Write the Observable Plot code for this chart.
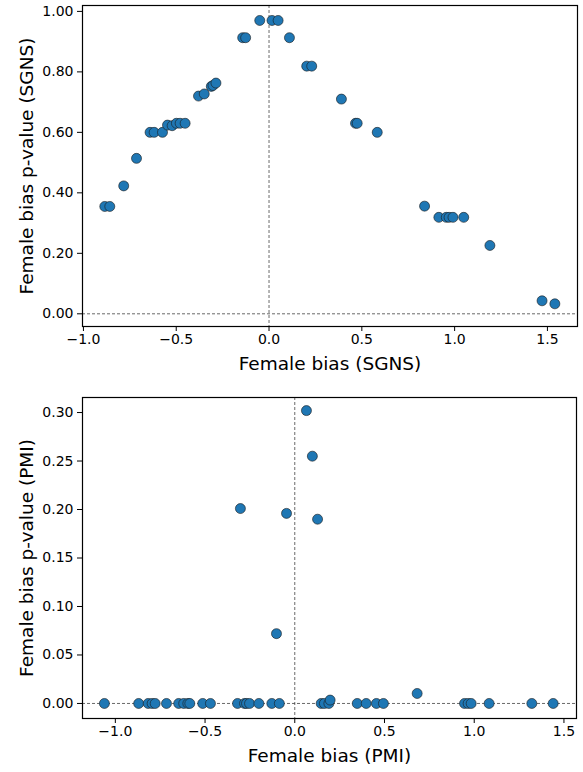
<!DOCTYPE html>
<html>
<head>
<meta charset="utf-8">
<script src="https://cdn.jsdelivr.net/npm/d3@7"></script>
<script src="https://cdn.jsdelivr.net/npm/@observablehq/plot@0.6"></script>
<style>
  html, body { margin: 0; padding: 0; background: #fff; }
  #chart svg { display: block; }
</style>
</head>
<body>
<div id="chart"></div>
<script>
// ---- Top panel: SGNS ----
const sgnsBias = [
  -0.885, -0.858, -0.783, -0.714, -0.641, -0.619, -0.574, -0.547, -0.522, -0.499,
  -0.479, -0.452, -0.380, -0.349, -0.311, -0.302, -0.286, -0.142, -0.126, -0.050,
  0.016, 0.049, 0.110, 0.203, 0.230, 0.390, 0.466, 0.475, 0.583, 0.838,
  0.915, 0.955, 0.970, 0.991, 1.049, 1.190, 1.471, 1.540
];
const sgnsP = [
  0.355, 0.355, 0.423, 0.514, 0.600, 0.600, 0.600, 0.624, 0.622, 0.630,
  0.630, 0.630, 0.720, 0.727, 0.752, 0.755, 0.763, 0.913, 0.913, 0.970,
  0.970, 0.970, 0.913, 0.819, 0.819, 0.710, 0.630, 0.630, 0.600, 0.356,
  0.319, 0.319, 0.319, 0.319, 0.319, 0.226, 0.043, 0.033
];

// ---- Bottom panel: PMI ----
const pmiBias = [
  -1.061, -0.870, -0.817, -0.795, -0.778, -0.715, -0.647, -0.619, -0.596, -0.585,
  -0.513, -0.470, -0.319, -0.303, -0.280, -0.269, -0.252, -0.200, -0.128, -0.102,
  -0.086, -0.046, 0.065, 0.098, 0.127, 0.147, 0.165, 0.190, 0.197, 0.348,
  0.398, 0.455, 0.494, 0.682, 0.946, 0.966, 0.983, 1.083, 1.321, 1.440
];
const pmiP = [
  0, 0, 0, 0, 0, 0, 0, 0, 0, 0,
  0, 0, 0, 0.201, 0, 0, 0, 0, 0, 0.072,
  0, 0.196, 0.302, 0.255, 0.190, 0, 0, 0, 0.0035, 0,
  0, 0, 0, 0.0103, 0, 0, 0, 0, 0, 0
];

const xTicks = [-1.0, -0.5, 0.0, 0.5, 1.0, 1.5];
const sgnsYTicks = [0, 0.2, 0.4, 0.6, 0.8, 1.0];
const pmiYTicks = [0, 0.05, 0.10, 0.15, 0.20, 0.25, 0.30];

const sgnsData = sgnsBias.map((x, i) => ({x, y: sgnsP[i]}));
const pmiData = pmiBias.map((x, i) => ({x, y: pmiP[i]}));

const font = "DejaVu Sans, sans-serif";
const fmtX = d3.format(".1f");
const fmtY = d3.format(".2f");

function panel({data, xDomain, yDomain, yTicks, xLabel, yLabel, marginTop, marginBottom, marginRight}) {
  return Plot.plot({
    width: 583,
    height: 386,
    marginLeft: 82,
    marginRight,
    marginTop,
    marginBottom,
    style: {fontFamily: font, fontSize: "14px", color: "#000", background: "#fff"},
    x: {domain: xDomain},
    y: {domain: yDomain},
    marks: [
      Plot.ruleX([0], {stroke: "#444", strokeWidth: 0.8, strokeDasharray: "3,2"}),
      Plot.ruleY([0], {stroke: "#444", strokeWidth: 0.8, strokeDasharray: "3,2"}),
      Plot.dot(data, {x: "x", y: "y", r: 5, fill: "#1f77b4", stroke: "#1a1a1a", strokeWidth: 0.6}),
      Plot.axisX({ticks: xTicks, tickFormat: fmtX, tickSize: 5, tickPadding: 3, label: null, fill: "#000", stroke: "#000"}),
      Plot.axisY({ticks: yTicks, tickFormat: fmtY, tickSize: 5, tickPadding: 4, label: null, fill: "#000", stroke: "#000"}),
      Plot.frame({stroke: "#000", strokeWidth: 1.2}),
      Plot.text([xLabel], {frameAnchor: "bottom", lineAnchor: "middle", textAnchor: "middle", dy: 38, fontSize: 18.5, fill: "#000", text: d => d}),
      Plot.text([yLabel], {frameAnchor: "left", lineAnchor: "middle", textAnchor: "middle", dx: -55, rotate: -90, fontSize: 18.5, fill: "#000", text: d => d})
    ]
  });
}

const topPanel = panel({
  data: sgnsData,
  xDomain: [-1.005, 1.662],
  yDomain: [-0.042, 1.0195],
  yTicks: sgnsYTicks,
  xLabel: "Female bias (SGNS)",
  yLabel: "Female bias p-value (SGNS)",
  marginTop: 5, marginBottom: 60, marginRight: 6
});
const bottomPanel = panel({
  data: pmiData,
  xDomain: [-1.183, 1.570],
  yDomain: [-0.0155, 0.3155],
  yTicks: pmiYTicks,
  xLabel: "Female bias (PMI)",
  yLabel: "Female bias p-value (PMI)",
  marginTop: 11, marginBottom: 54, marginRight: 7
});
const el = document.getElementById("chart");
el.appendChild(topPanel);
el.appendChild(bottomPanel);
</script>
</body>
</html>
